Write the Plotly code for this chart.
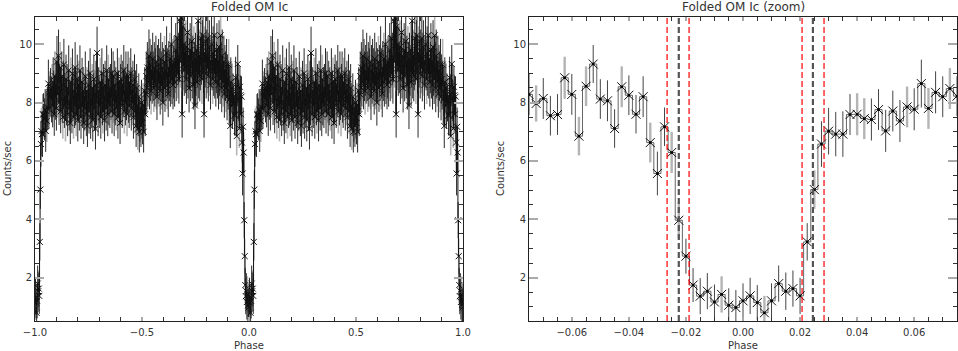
import numpy as np
import plotly.graph_objects as go

BIN = 0.0025  # phase bin width

# ---- eclipse region, bins centred at phase -0.075 ... -0.0025 ----
zoom_rate_pre = [8.28, 7.97, 8.14, 7.55, 7.59, 8.85, 8.28, 6.85, 8.56, 9.32,
                 8.12, 8.06, 7.11, 8.54, 8.25, 7.60, 8.20, 6.63, 5.57, 7.17,
                 6.29, 3.97, 2.74, 1.75, 1.37, 1.54, 1.17, 1.43, 1.06, 0.98]
zoom_err_pre = [0.72, 0.62, 0.70, 0.68, 0.70, 0.72, 0.70, 0.66, 0.68, 0.65,
                0.68, 0.70, 0.66, 0.70, 0.68, 0.66, 0.70, 0.68, 0.75, 0.66,
                0.70, 0.62, 0.60, 0.58, 0.62, 0.62, 0.60, 0.62, 0.58, 0.60]
# ---- eclipse region, bins centred at phase 0.0 ... 0.075 ----
zoom_rate_post = [1.21, 1.38, 1.15, 0.80, 1.21, 1.80, 1.54, 1.63, 1.38, 3.23,
                  5.02, 6.58, 7.02, 6.92, 6.92, 7.59, 7.60, 7.45, 7.42, 7.76,
                  7.03, 7.71, 7.37, 7.85, 7.77, 8.65, 7.80, 8.35, 8.20, 8.48,
                  8.22]
zoom_err_post = [0.60, 0.62, 0.60, 0.58, 0.60, 0.62, 0.64, 0.62, 0.62, 0.64,
                 0.66, 0.78, 0.80, 0.76, 0.78, 0.70, 0.72, 0.70, 0.72, 0.70,
                 0.72, 0.70, 0.72, 0.70, 0.72, 0.82, 0.70, 0.72, 0.70, 0.70,
                 0.68]

# ---- out-of-eclipse bins, phase 0.0775 ... 0.9225 ----
orbit_rate_mid = [
    8.1, 8.5, 7.9, 8.7, 8.3, 7.6, 8.9, 8.2, 8.6, 7.8,
    9.4, 8.3, 8.8, 9.6, 8.0, 8.5, 9.2, 7.7, 8.4, 8.9,
    8.1, 7.5, 8.6, 9.3, 7.9, 8.2, 7.4, 8.8, 8.0, 8.5,
    7.6, 8.3, 9.1, 7.8, 8.0, 7.3, 8.7, 8.1, 7.7, 9.0,
    8.2, 7.5, 8.4, 7.9, 9.2, 8.0, 7.6, 8.3, 8.8, 7.4,
    8.1, 8.6, 7.8, 9.1, 8.3, 7.5, 8.0, 8.7, 7.9, 8.4,
    7.3, 8.2, 7.8, 8.9, 8.1, 7.6, 8.4, 7.2, 8.0, 8.6,
    7.7, 8.3, 9.0, 7.5, 8.1, 7.9, 8.5, 7.4, 8.2, 8.8,
    7.8, 8.3, 7.1, 8.6, 8.0, 9.7, 8.2, 7.6, 8.4, 8.1,
    7.9, 8.7, 7.5, 8.3, 9.0, 8.0, 7.7, 8.5, 8.2, 7.4,
    8.6, 8.1, 7.8, 9.1, 8.3, 7.6, 8.8, 8.0, 8.4, 7.9,
    8.5, 8.2, 9.0, 7.7, 8.3, 8.9, 8.1, 7.6, 8.6, 8.0,
    8.4, 7.8, 8.2, 9.0, 7.5, 8.3, 8.7, 8.0, 7.3, 8.5,
    8.8, 8.1, 7.9, 8.6, 8.3, 9.1, 7.7, 8.4, 8.0, 8.9,
    8.2, 7.6, 8.5, 8.9, 8.1, 7.9, 8.7, 8.3, 9.0, 7.8,
    8.4, 8.0, 8.6, 7.5, 8.2, 8.8, 7.7, 8.3, 7.2, 8.5,
    7.9, 7.1, 7.6, 8.2, 7.0, 7.4, 7.8, 7.2, 8.0, 7.5,
    7.3, 7.9, 7.0, 7.7, 8.4, 7.6, 8.3, 8.9, 8.5, 9.2,
    8.7, 9.0, 9.6, 8.6, 9.3, 8.9, 8.4, 9.1, 8.8, 9.5,
    8.9, 8.5, 9.2, 8.7, 9.0, 9.4, 8.6, 8.2, 9.1, 8.8,
    9.3, 8.7, 9.0, 8.4, 9.5, 8.9, 8.6, 9.2, 8.0, 9.0,
    8.8, 9.4, 8.5, 9.1, 8.9, 9.7, 8.6, 9.0, 8.3, 9.2,
    8.9, 9.5, 8.7, 9.1, 10.0, 8.8, 9.3, 8.6, 9.0, 9.4,
    8.7, 9.2, 9.8, 8.9, 9.4, 10.2, 9.0, 9.5, 8.8, 9.6,
    10.8, 9.4, 10.9, 9.9, 7.6, 10.6, 9.3, 10.0, 9.1, 9.7,
    9.2, 9.9, 8.8, 9.4, 10.4, 9.0, 9.6, 8.5, 9.3, 9.8,
    8.9, 9.5, 10.1, 9.0, 9.4, 8.6, 9.7, 9.2, 7.9, 9.5,
    9.1, 9.8, 8.7, 9.4, 10.8, 9.0, 9.6, 8.9, 9.3, 10.2,
    9.5, 8.8, 9.9, 10.3, 9.2, 7.6, 9.7, 9.4, 10.1, 9.0,
    9.6, 9.2, 10.2, 8.9, 9.5, 9.9, 9.1, 8.6, 9.4, 10.0,
    9.3, 8.8, 9.7, 9.1, 10.3, 9.0, 9.5, 8.7, 9.2, 9.8,
    9.0, 9.4, 8.6, 9.9, 9.1, 8.8, 10.3, 9.2, 8.5, 9.6,
    9.0, 8.7, 9.4, 8.3, 9.1, 8.9, 8.5, 9.3, 8.2, 8.8,
    8.6, 9.3, 8.1, 8.4, 7.2, 8.7, 8.0, 8.5, 7.9,
]
orbit_err_mid = [
    0.78, 0.82, 0.75, 0.85, 0.80, 0.74, 0.86, 0.79, 0.83, 0.76,
    0.88, 0.80, 0.84, 0.90, 0.77, 0.81, 0.87, 0.75, 0.80, 0.85,
    0.79, 0.74, 0.83, 0.88, 0.77, 0.80, 0.73, 0.84, 0.78, 0.82,
    0.75, 0.80, 0.86, 0.76, 0.78, 0.72, 0.84, 0.79, 0.75, 0.85,
    0.80, 0.74, 0.81, 0.77, 0.87, 0.78, 0.75, 0.80, 0.84, 0.73,
    0.79, 0.83, 0.76, 0.86, 0.80, 0.74, 0.78, 0.83, 0.77, 0.81,
    0.72, 0.80, 0.76, 0.85, 0.79, 0.75, 0.81, 0.72, 0.78, 0.83,
    0.76, 0.80, 0.86, 0.74, 0.79, 0.77, 0.82, 0.73, 0.80, 0.84,
    0.77, 0.80, 0.71, 0.83, 0.78, 0.90, 0.80, 0.75, 0.81, 0.79,
    0.77, 0.84, 0.74, 0.80, 0.86, 0.78, 0.76, 0.82, 0.80, 0.73,
    0.83, 0.79, 0.76, 0.86, 0.80, 0.75, 0.84, 0.78, 0.81, 0.77,
    0.82, 0.80, 0.86, 0.76, 0.80, 0.85, 0.79, 0.75, 0.83, 0.78,
    0.81, 0.76, 0.80, 0.86, 0.74, 0.80, 0.84, 0.78, 0.72, 0.82,
    0.84, 0.79, 0.77, 0.83, 0.80, 0.87, 0.76, 0.81, 0.78, 0.85,
    0.80, 0.75, 0.82, 0.85, 0.79, 0.77, 0.84, 0.80, 0.86, 0.76,
    0.81, 0.78, 0.83, 0.74, 0.80, 0.85, 0.76, 0.80, 0.72, 0.82,
    0.77, 0.72, 0.75, 0.80, 0.71, 0.74, 0.77, 0.72, 0.78, 0.74,
    0.73, 0.77, 0.71, 0.76, 0.81, 0.75, 0.80, 0.85, 0.82, 0.87,
    0.84, 0.86, 0.90, 0.83, 0.88, 0.85, 0.81, 0.87, 0.84, 0.89,
    0.85, 0.82, 0.87, 0.84, 0.86, 0.89, 0.83, 0.80, 0.87, 0.84,
    0.88, 0.84, 0.86, 0.81, 0.89, 0.85, 0.83, 0.87, 0.79, 0.86,
    0.84, 0.88, 0.82, 0.87, 0.85, 0.91, 0.83, 0.86, 0.80, 0.87,
    0.85, 0.89, 0.84, 0.87, 0.93, 0.85, 0.88, 0.83, 0.86, 0.89,
    0.84, 0.87, 0.92, 0.85, 0.89, 0.94, 0.86, 0.89, 0.84, 0.90,
    0.97, 0.89, 0.98, 0.92, 0.80, 0.96, 0.88, 0.92, 0.87, 0.91,
    0.88, 0.92, 0.85, 0.89, 0.95, 0.86, 0.90, 0.84, 0.88, 0.92,
    0.86, 0.89, 0.93, 0.86, 0.89, 0.84, 0.91, 0.88, 0.81, 0.89,
    0.87, 0.92, 0.84, 0.89, 0.97, 0.86, 0.90, 0.86, 0.88, 0.94,
    0.89, 0.85, 0.92, 0.95, 0.88, 0.80, 0.91, 0.89, 0.93, 0.86,
    0.90, 0.88, 0.94, 0.86, 0.89, 0.92, 0.87, 0.84, 0.89, 0.93,
    0.88, 0.85, 0.91, 0.87, 0.95, 0.86, 0.89, 0.84, 0.88, 0.92,
    0.86, 0.89, 0.84, 0.92, 0.87, 0.85, 0.95, 0.88, 0.83, 0.90,
    0.86, 0.84, 0.89, 0.82, 0.87, 0.85, 0.83, 0.88, 0.81, 0.85,
    0.84, 0.88, 0.81, 0.83, 0.76, 0.85, 0.80, 0.84, 0.80,
]

# eclipse contact phases (dashed markers in the zoom panel)
contact_red = [-0.0266, -0.0189, 0.0207, 0.0284]
contact_mid = [-0.0225, 0.0245]

assert len(zoom_rate_pre) == 30 and len(zoom_err_pre) == 30
assert len(zoom_rate_post) == 31 and len(zoom_err_post) == 31
assert len(orbit_rate_mid) == 339 and len(orbit_err_mid) == 339

# ---------- assemble data ----------
cycle_rate = np.array(zoom_rate_post + orbit_rate_mid + zoom_rate_pre)
cycle_err = np.array(zoom_err_post + orbit_err_mid + zoom_err_pre)
nbin = len(cycle_rate)  # 400
k_full = np.arange(-nbin, nbin + 1)
full_phase = k_full * BIN
full_rate = cycle_rate[k_full % nbin]
full_err = cycle_err[k_full % nbin]

k_zoom = np.arange(-len(zoom_rate_pre), len(zoom_rate_post))
zoom_phase = k_zoom * BIN
zoom_rate = np.array(zoom_rate_pre + zoom_rate_post)
zoom_err = np.array(zoom_err_pre + zoom_err_post)

# style: which error bars are drawn in light grey
light_zoom = np.zeros(len(zoom_phase), bool)
light_zoom[[1, 5, 7, 8, 13, 17, 20, 21, 27, 33, 40, 46, 47, 53, 56, 59]] = True
light_full = (k_full % 5) == 2

FONT = "DejaVu Sans"
TXT = "#333333"
LIGHT = "#b4b4b4"
DARK = "#444444"

fig = go.Figure()


def add_panel(xs, ys, es, light, xa, ya, msize, lcolor, dots, lth, dcol):
    for mask, col, th in ((light, LIGHT, lth), (~light, dcol, 1.0)):
        fig.add_trace(go.Scatter(
            x=xs[mask], y=ys[mask], mode="markers",
            marker=dict(size=0.1, opacity=0),
            error_y=dict(type="data", array=es[mask], color=col,
                         thickness=th, width=0),
            xaxis=xa, yaxis=ya, showlegend=False, hoverinfo="skip"))
    fig.add_trace(go.Scatter(
        x=xs, y=ys, mode="lines", line=dict(shape="hvh", color=lcolor, width=1),
        xaxis=xa, yaxis=ya, showlegend=False, hoverinfo="skip"))
    fig.add_trace(go.Scatter(
        x=xs, y=ys, mode="markers",
        marker=dict(symbol="x-thin", size=msize,
                    line=dict(width=1, color="#111111")),
        xaxis=xa, yaxis=ya, showlegend=False))
    if dots:
        fig.add_trace(go.Scatter(
            x=xs, y=ys, mode="markers",
            marker=dict(symbol="square", size=2.5, color="#000000"),
            xaxis=xa, yaxis=ya, showlegend=False, hoverinfo="skip"))


add_panel(full_phase, full_rate, full_err, light_full, "x", "y", 6, "#111111",
          False, 1.6, "#2a2a2a")
add_panel(zoom_phase, zoom_rate, zoom_err, light_zoom, "x2", "y2", 9, "#666666",
          True, 2.4, DARK)

for p in contact_red:
    fig.add_shape(type="line", xref="x2", yref="y2 domain", x0=p, x1=p, y0=0, y1=1,
                  line=dict(color="#ff0000", width=1.2, dash="6px,3px"))
for p in contact_mid:
    fig.add_shape(type="line", xref="x2", yref="y2 domain", x0=p, x1=p, y0=0, y1=1,
                  line=dict(color="#555555", width=2.2, dash="6px,3px"))

W, H = 958, 351
axis_common = dict(
    showgrid=False, zeroline=False, showline=True, linecolor="#222222",
    linewidth=1, mirror="ticks", ticks="inside", automargin=False,
    tickfont=dict(family=FONT, size=10, color=TXT),
)
yrange = [0.52, 10.93]

fig.update_layout(
    width=W, height=H,
    margin=dict(l=0, r=0, t=17, b=30),
    paper_bgcolor="white", plot_bgcolor="white",
    xaxis=dict(domain=[35 / W, 463 / W], range=[-1, 1], dtick=0.5, tick0=0,
               tickformat=".1f", ticklen=4, tickwidth=2, tickcolor="#aaaaaa",
               ticklabelstandoff=2,
               minor=dict(dtick=0.1, ticks="inside", ticklen=4,
                          tickcolor="#333333", tickwidth=1),
               anchor="y", **axis_common),
    yaxis=dict(domain=[0, 1], range=yrange, dtick=2, tick0=0,
               ticklen=9, tickwidth=2, tickcolor="#aaaaaa",
               minor=dict(dtick=0.5, ticks="inside", ticklen=4,
                          tickcolor="#333333", tickwidth=1),
               anchor="x", **axis_common),
    xaxis2=dict(domain=[529 / W, 957 / W], range=[-0.075, 0.075], dtick=0.02,
                tick0=0, tickformat=".2f", ticklen=4, tickwidth=2,
                tickcolor="#aaaaaa", ticklabelstandoff=2,
                minor=dict(dtick=0.005, ticks="inside", ticklen=4,
                           tickcolor="#333333", tickwidth=1),
                anchor="y2", **axis_common),
    yaxis2=dict(domain=[0, 1], range=yrange, dtick=2, tick0=0,
                ticklen=9, tickwidth=2, tickcolor="#aaaaaa",
                minor=dict(dtick=0.5, ticks="inside", ticklen=4,
                           tickcolor="#333333", tickwidth=1),
                anchor="x2", **axis_common),
)

ann_font = dict(family=FONT, size=10, color=TXT)
title_font = dict(family=FONT, size=12, color=TXT)
fig.add_annotation(text="Folded OM Ic", xref="x domain", yref="paper",
                   x=0.5, y=1, yshift=10, showarrow=False, font=title_font,
                   xanchor="center", yanchor="middle")
fig.add_annotation(text="Folded OM Ic (zoom)", xref="x2 domain", yref="paper",
                   x=0.5, y=1, yshift=10, showarrow=False, font=title_font,
                   xanchor="center", yanchor="middle")
for xa in ("x domain", "x2 domain"):
    fig.add_annotation(text="Phase", xref=xa, yref="paper", x=0.5, y=0,
                       yshift=-24, showarrow=False, font=ann_font,
                       xanchor="center", yanchor="middle")
for xpix in (7, 500):
    fig.add_annotation(text="Counts/sec", xref="paper", yref="paper",
                       x=xpix / W, y=0.5, textangle=-90, showarrow=False,
                       font=ann_font, xanchor="center", yanchor="middle")

fig.write_html("out.html",
               config={"displayModeBar": False},
               post_script="document.body.style.margin='0';"
                           "document.body.style.overflow='hidden';")
